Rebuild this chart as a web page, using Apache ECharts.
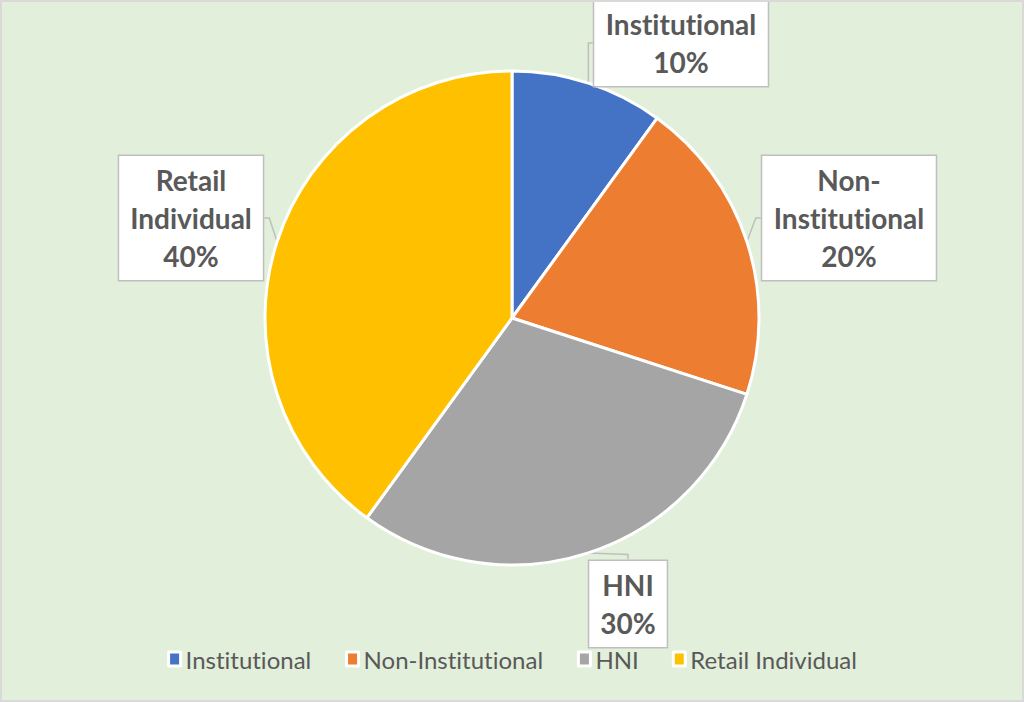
<!DOCTYPE html>
<html>
<head>
<meta charset="utf-8">
<script src="https://cdn.jsdelivr.net/npm/echarts@6/dist/echarts.min.js"></script>
<style>
html,body{margin:0;padding:0;background:#E2EFDA;}
#chart{width:1024px;height:702px;}
#chart text{font-variant-ligatures:none;font-feature-settings:"liga" 0,"clig" 0;}
</style>
</head>
<body>
<div id="chart"></div>
<script>
const categories = ['Institutional', 'Non-Institutional', 'HNI', 'Retail Individual'];
const values = [10, 20, 30, 40];
const colors = ['#4472C4', '#ED7D31', '#A5A5A5', '#FFC000'];
// label box centres (layout only)
const labelSpots = [[681, 43], [849, 218], [628, 604], [191, 218]];

const chart = echarts.init(document.getElementById('chart'), null, {renderer: 'svg'});
chart.setOption({
  backgroundColor: '#E2EFDA',
  animation: false,
  color: colors,
  graphic: [{
    type: 'rect', silent: true, z: 100,
    shape: {x: 1, y: 1, width: 1022, height: 700},
    style: {fill: 'none', stroke: '#D9D9D9', lineWidth: 2}
  }],
  legend: {
    data: categories,
    top: 642,
    left: 'center',
    icon: 'rect',
    itemWidth: 12,
    itemHeight: 14,
    itemGap: 33,
    itemStyle: {borderColor: '#ffffff', borderWidth: 3},
    textStyle: {color: '#595959', fontFamily: 'Lato', fontSize: 24}
  },
  series: [{
    type: 'pie',
    center: [512, 318],
    radius: 247,
    startAngle: 90,
    clockwise: true,
    itemStyle: {borderColor: '#ffffff', borderWidth: 3},
    data: categories.map((c, i) => ({name: c, value: values[i]})),
    label: {
      show: true,
      position: 'outside',
      formatter: p => p.name.replace('-', '-\n').replace(' ', '\n') + '\n' + p.percent + '%',
      color: '#595959',
      fontFamily: 'Lato',
      fontWeight: 'bold',
      fontSize: 28,
      lineHeight: 38,
      align: 'center',
      backgroundColor: '#ffffff',
      borderColor: '#BFBFBF',
      borderWidth: 1.5,
      padding: [5, 11]
    },
    labelLine: {
      show: true,
      length: 10,
      length2: 5,
      lineStyle: {color: '#BFBFBF', width: 1.5}
    },
    labelLayout: function (params) {
      const s = labelSpots[params.dataIndex];
      return {x: s[0], y: s[1], align: 'center', verticalAlign: 'middle', hideOverlap: false};
    }
  }]
});
</script>
</body>
</html>
